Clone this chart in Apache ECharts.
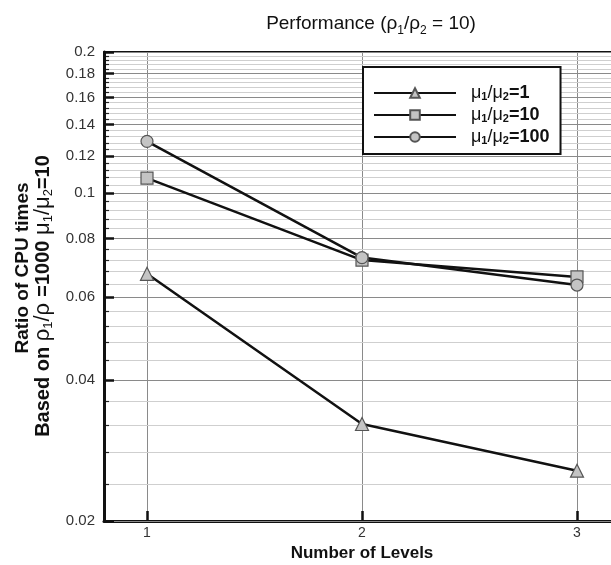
<!DOCTYPE html>
<html>
<head>
<meta charset="utf-8">
<script src="https://cdn.jsdelivr.net/npm/echarts@6/dist/echarts.min.js"></script>
<style>html,body{margin:0;padding:0;background:#fff}#c{width:611px;height:565px}</style>
</head>
<body>
<div id="c"></div>
<script>
var levels = [1, 2, 3];
var mu1 = [0.0673, 0.0322, 0.0256];
var mu10 = [0.1077, 0.0720, 0.0663];
var mu100 = [0.129, 0.0729, 0.0637];
var seriesNames = ['mu1', 'mu10', 'mu100'];
var legendLabels = {
  mu1: '{m|μ}{s|1}{m|/μ}{s|2}{b|=1}',
  mu10: '{m|μ}{s|1}{m|/μ}{s|2}{b|=10}',
  mu100: '{m|μ}{s|1}{m|/μ}{s|2}{b|=100}'
};
var yTitle1 = '{b|Ratio of CPU times}';
var yTitle2 = '{b2|Based on }{g|ρ}{s|1}{g|/ρ }{b2|=1000 }{g|μ}{s|1}{g|/μ}{s|2}{b2|=10}';
var yMajorTicks = [0.02, 0.04, 0.06, 0.08, 0.1, 0.12, 0.14, 0.16, 0.18, 0.2];
var yMinorTicks = [];
for (var i = 0; i < yMajorTicks.length - 1; i++) {
  for (var k = 1; k <= 4; k++) yMinorTicks.push(+(yMajorTicks[i] + k * 0.004).toFixed(4));
}
var xTicks = [1, 2, 3];

var FONT = 'Liberation Sans';
function pts(vals) { return levels.map(function (l, i) { return [l, vals[i]]; }); }
var mk = { mu1: 'triangle', mu10: 'rect', mu100: 'circle' };
var data = { mu1: mu1, mu10: mu10, mu100: mu100 };

var yNameRich = {
  b: { fontFamily: FONT, fontSize: 19, fontWeight: 'bold', fill: '#111', lineHeight: 24, verticalAlign: 'middle' },
  b2: { fontFamily: FONT, fontSize: 20, fontWeight: 'bold', fill: '#111', lineHeight: 24, verticalAlign: 'middle' },
  g: { fontFamily: FONT, fontSize: 22, fill: '#111', lineHeight: 24, verticalAlign: 'middle' },
  s: { fontFamily: FONT, fontSize: 13, fill: '#111', lineHeight: 12, verticalAlign: 'bottom' }
};

var chart = echarts.init(document.getElementById('c'));
chart.setOption({
  animation: false,
  backgroundColor: '#fff',
  title: {
    text: '{t|Performance (}{t|ρ}{s|1}{t|/}{t|ρ}{s|2}{t| = 10)}',
    left: 366, textAlign: 'center', top: 6,
    textStyle: {
      fontWeight: 'normal',
      rich: {
        t: { fontFamily: FONT, fontSize: 19, fontWeight: 'normal', color: '#111', lineHeight: 26, verticalAlign: 'middle' },
        s: { fontFamily: FONT, fontSize: 12, fontWeight: 'normal', color: '#111', lineHeight: 12, verticalAlign: 'bottom' }
      }
    }
  },
  graphic: [{
    type: 'text', x: 23, y: 268, rotation: Math.PI / 2,
    style: { text: yTitle1, rich: yNameRich, align: 'center', verticalAlign: 'middle' }
  }, {
    type: 'text', x: 43, y: 296, rotation: Math.PI / 2,
    style: { text: yTitle2, rich: yNameRich, align: 'center', verticalAlign: 'middle' }
  }],
  legend: {
    orient: 'vertical', left: 363, top: 67,
    itemWidth: 82, itemHeight: 12, itemGap: 4,
    backgroundColor: '#fff', borderColor: '#111', borderWidth: 2,
    padding: [17, 11, 8, 10],
    data: seriesNames,
    formatter: function (n) { return legendLabels[n]; },
    textStyle: {
      padding: [0, 0, 0, 10],
      rich: {
        m: { fontFamily: FONT, fontSize: 18, color: '#111', lineHeight: 18, verticalAlign: 'middle' },
        s: { fontFamily: FONT, fontSize: 11, fontWeight: 'bold', color: '#111', lineHeight: 10, verticalAlign: 'bottom' },
        b: { fontFamily: FONT, fontSize: 18, fontWeight: 'bold', color: '#111', lineHeight: 18, verticalAlign: 'middle' }
      }
    }
  },
  grid: { left: 104, top: 52, right: -9, bottom: 44, containLabel: false, outerBoundsMode: 'none' },
  xAxis: [{
    type: 'value', min: 0.8, max: 3.2, position: 'bottom',
    name: 'Number of Levels', nameLocation: 'middle', nameGap: 20,
    nameTextStyle: { fontFamily: FONT, fontSize: 17, fontWeight: 'bold', color: '#111' },
    axisLine: { lineStyle: { color: '#111', width: 3 } },
    axisTick: { inside: true, length: 10, lineStyle: { color: '#111', width: 2.5 }, customValues: xTicks },
    axisLabel: { customValues: xTicks, fontFamily: FONT, fontSize: 14, color: '#333', margin: 5 },
    splitLine: { show: true, lineStyle: { color: '#8a8a8a', width: 1 } }
  }, {
    type: 'value', min: 0.8, max: 3.2, position: 'top',
    axisLine: { onZero: false, lineStyle: { color: '#111', width: 2 } },
    axisTick: { show: false }, axisLabel: { show: false }, splitLine: { show: false }
  }],
  yAxis: [{
    type: 'log', logBase: 10, min: 0.02, max: 0.2, position: 'left',
    axisLine: { lineStyle: { color: '#111', width: 3 } },
    axisTick: { inside: true, length: 10, lineStyle: { color: '#111', width: 2.5 }, customValues: yMajorTicks },
    axisLabel: { customValues: yMajorTicks, fontFamily: FONT, fontSize: 15, color: '#333', margin: 9,
      formatter: function (v) { return String(+v.toFixed(4)); } },
    splitLine: { show: true, lineStyle: { color: '#8a8a8a', width: 1 } },
    z: 3
  }, {
    type: 'log', logBase: 10, min: 0.02, max: 0.2, position: 'left',
    axisLine: { show: false },
    axisTick: { inside: true, length: 5, lineStyle: { color: '#222', width: 1.2 }, customValues: yMinorTicks },
    axisLabel: { show: false },
    splitLine: { show: true, lineStyle: { color: '#cfcfcf', width: 1 } },
    z: 1
  }],
  series: seriesNames.map(function (n) {
    return {
      name: n, type: 'line', xAxisIndex: 0, yAxisIndex: 0,
      data: pts(data[n]),
      symbol: mk[n], symbolSize: n === 'mu1' ? 13 : 12,
      lineStyle: { color: '#111', width: 2.5 },
      itemStyle: { color: '#c4c4c4', borderColor: '#555', borderWidth: 1.2 },
      z: 5
    };
  })
});
</script>
</body>
</html>
